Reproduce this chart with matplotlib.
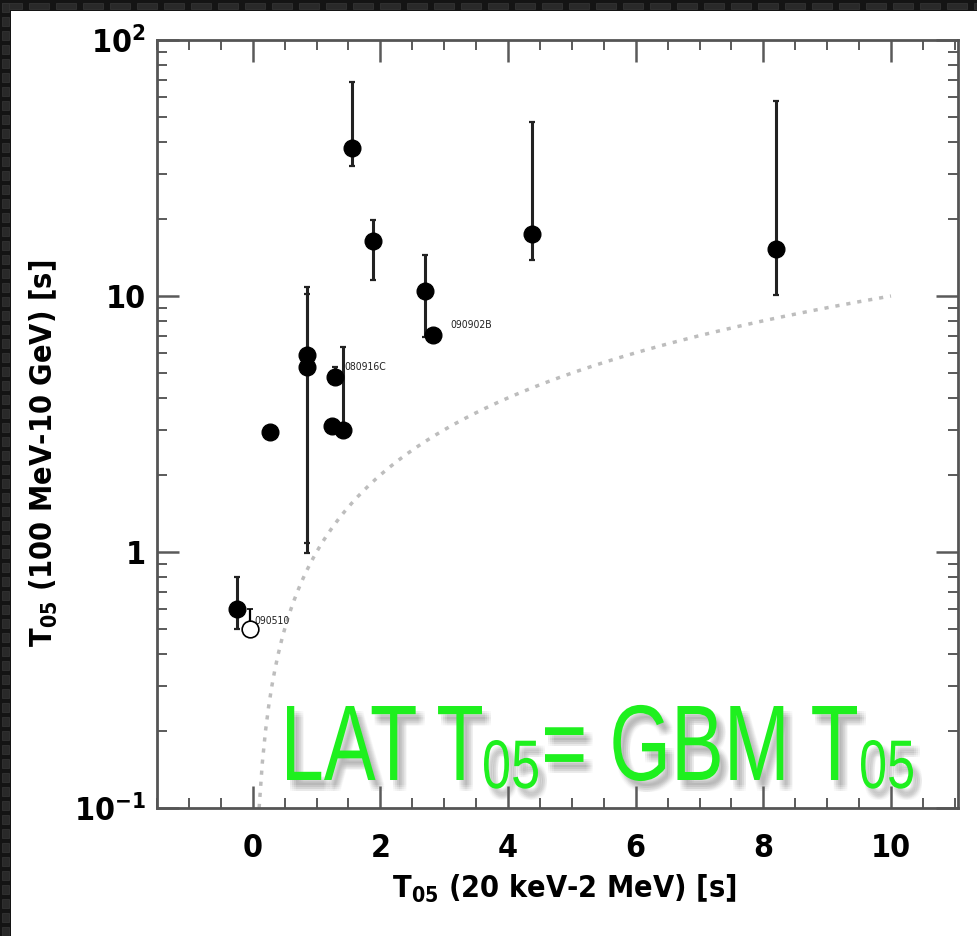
import matplotlib
matplotlib.use("Agg")
import matplotlib.pyplot as plt
from matplotlib.patches import Rectangle, PathPatch
from matplotlib.textpath import TextPath
from matplotlib.font_manager import FontProperties
from matplotlib.transforms import Affine2D, IdentityTransform
from matplotlib.ticker import FixedLocator, MultipleLocator, LogLocator, NullFormatter
import numpy as np

plt.rcParams['font.family'] = ['DejaVu Sans']
plt.rcParams['font.stretch'] = 'condensed'
plt.rcParams['mathtext.fontset'] = 'custom'
plt.rcParams['mathtext.rm'] = 'DejaVu Sans:bold'
plt.rcParams['mathtext.bf'] = 'DejaVu Sans:bold'
plt.rcParams['mathtext.default'] = 'rm'

# GBM T05 (x) vs LAT T05 (y), with asymmetric errors on the LAT duration
gbm_t05 = [-0.25, 0.27, 0.85, 0.85, 1.24, 1.29, 1.41, 1.55, 1.88, 2.70, 2.82, 4.37, 8.20]
lat_t05 = [0.60, 2.94, 5.9, 5.3, 3.1, 4.83, 3.0, 37.9, 16.4, 10.5, 7.04, 17.5, 15.3]
lat_lo = [0.50, 2.94, 1.08, 0.99, 3.1, 4.83, 3.0, 32.2, 11.5, 6.9, 7.04, 13.8, 10.1]
lat_hi = [0.80, 2.94, 10.8, 10.2, 3.1, 5.3, 6.3, 68.5, 19.8, 14.5, 7.04, 47.9, 58.0]

# short burst drawn with an open symbol
short_x = [-0.05]
short_y = [0.50]
short_hi = [0.60]

burst_names = ["090902B", "080916C", "090510"]
name_x = [3.09, 1.44, 0.03]
name_y = [7.7, 5.28, 0.54]

line_x = np.linspace(0.1, 10, 200)

W, H = 977, 936
fig = plt.figure(figsize=(W / 100, H / 100), dpi=100, facecolor='#141414')

# woven dark border along the top and left edges
for px in range(2, W, 27):
    fig.add_artist(Rectangle((px, H - 9), 20, 6, transform=IdentityTransform(),
                             facecolor='#292929', edgecolor='#333333', linewidth=0.6, zorder=0))
for py in range(0, H, 14):
    fig.add_artist(Rectangle((2, py), 7, 9, transform=IdentityTransform(),
                             facecolor='#292929', edgecolor='#333333', linewidth=0.6, zorder=0))

bg = fig.add_axes([11 / W, 0, 1, 1 - 11 / H], zorder=1)
bg.axis('off')
bg.add_patch(Rectangle((0, 0), 1, 1, transform=bg.transAxes, facecolor='white', edgecolor='none'))

ax = fig.add_axes([157 / W, 1 - 808 / H, 801 / W, 768 / H], zorder=2)
ax.set_facecolor('white')

ax.plot(line_x, line_x, linestyle=(0, (1.2, 2.0)), color='#bdbdbd', linewidth=2.5, zorder=1)

yerr = [np.array(lat_t05) - np.array(lat_lo), np.array(lat_hi) - np.array(lat_t05)]
ax.errorbar(gbm_t05, lat_t05, yerr=yerr, fmt='o', color='black', markersize=12,
            elinewidth=2.2, capsize=2.5, capthick=1.6, ecolor='#222222', zorder=3)
ax.errorbar(short_x, short_y, yerr=[[0], [short_hi[0] - short_y[0]]], fmt='o',
            markerfacecolor='white', markeredgecolor='black', markeredgewidth=1.2,
            markersize=12, ecolor='black', elinewidth=1.6, capsize=2.5, zorder=3)

for name, nx, ny in zip(burst_names, name_x, name_y):
    ax.text(nx, ny, name, fontsize=7.5, color='#222222', ha='left', va='center', zorder=4)

ax.set_yscale('log')
ax.set_xlim(-1.5, 11.05)
ax.set_ylim(0.1, 100)

ax.xaxis.set_major_locator(MultipleLocator(2))
ax.xaxis.set_minor_locator(MultipleLocator(0.5))
ax.yaxis.set_major_locator(FixedLocator([0.1, 1, 10, 100]))
ax.yaxis.set_minor_locator(LogLocator(base=10, subs=np.arange(2, 10)))
ax.yaxis.set_minor_formatter(NullFormatter())
ax.set_yticklabels([r'$10^{-1}$', '1', '10', r'$10^{2}$'])

ax.tick_params(which='both', direction='in', top=True, right=True, color='#5a5a5a')
ax.tick_params(which='major', length=16, width=1.8, labelsize=23)
ax.tick_params(axis='x', which='major', pad=18)
ax.tick_params(axis='y', which='major', pad=8)
ax.tick_params(which='minor', length=7.5, width=1.4)
for lab in ax.get_xticklabels() + ax.get_yticklabels():
    lab.set_fontweight('bold')
for sp in ax.spines.values():
    sp.set_color('#555555')
    sp.set_linewidth(2)

ax.set_xlabel(r'T$_{05}$ (20 keV-2 MeV) [s]', fontsize=22, fontweight='bold')
ax.set_ylabel(r'T$_{05}$ (100 MeV-10 GeV) [s]', fontsize=22, fontweight='bold')
ax.xaxis.set_label_coords(0.508, -0.084)
ax.yaxis.set_label_coords(-0.121, 0.462)

# condensed green annotation, built from glyph outlines squeezed into pixel boxes
green_font = FontProperties(family='Liberation Sans')
pieces = [("LAT T", 287, 482, 780, 74), ("05", 484, 538, 788, 48),
          ("= GBM T", 545, 857, 780, None), ("05", 861, 913, 788, 48)]
shadow_offsets = [(dx, dy) for dx in (3, 5, 7, 9) for dy in (-5, -7, -9, -11)]
cap_scale = None
for txt, x0, x1, base, cap in pieces:
    tp = TextPath((0, 0), txt, size=100, prop=green_font)
    ext = tp.get_extents()
    if cap is not None:
        sy = cap / ext.y1
        if txt.startswith("LAT"):
            cap_scale = sy
    else:
        sy = cap_scale
    sx = (x1 - x0) / ext.width
    tr = Affine2D().translate(-ext.x0, 0).scale(sx, sy).translate(x0, H - base)
    path = tr.transform_path(tp)
    for dx, dy in shadow_offsets:
        fig.add_artist(PathPatch(path, transform=Affine2D().translate(dx, dy),
                                 facecolor='#6a6a6a', edgecolor='none', alpha=0.035, zorder=5))
    fig.add_artist(PathPatch(path, transform=IdentityTransform(), facecolor='#1ef01e',
                             edgecolor='none', zorder=6))

fig.savefig("out.png", dpi=100, facecolor=fig.get_facecolor())
